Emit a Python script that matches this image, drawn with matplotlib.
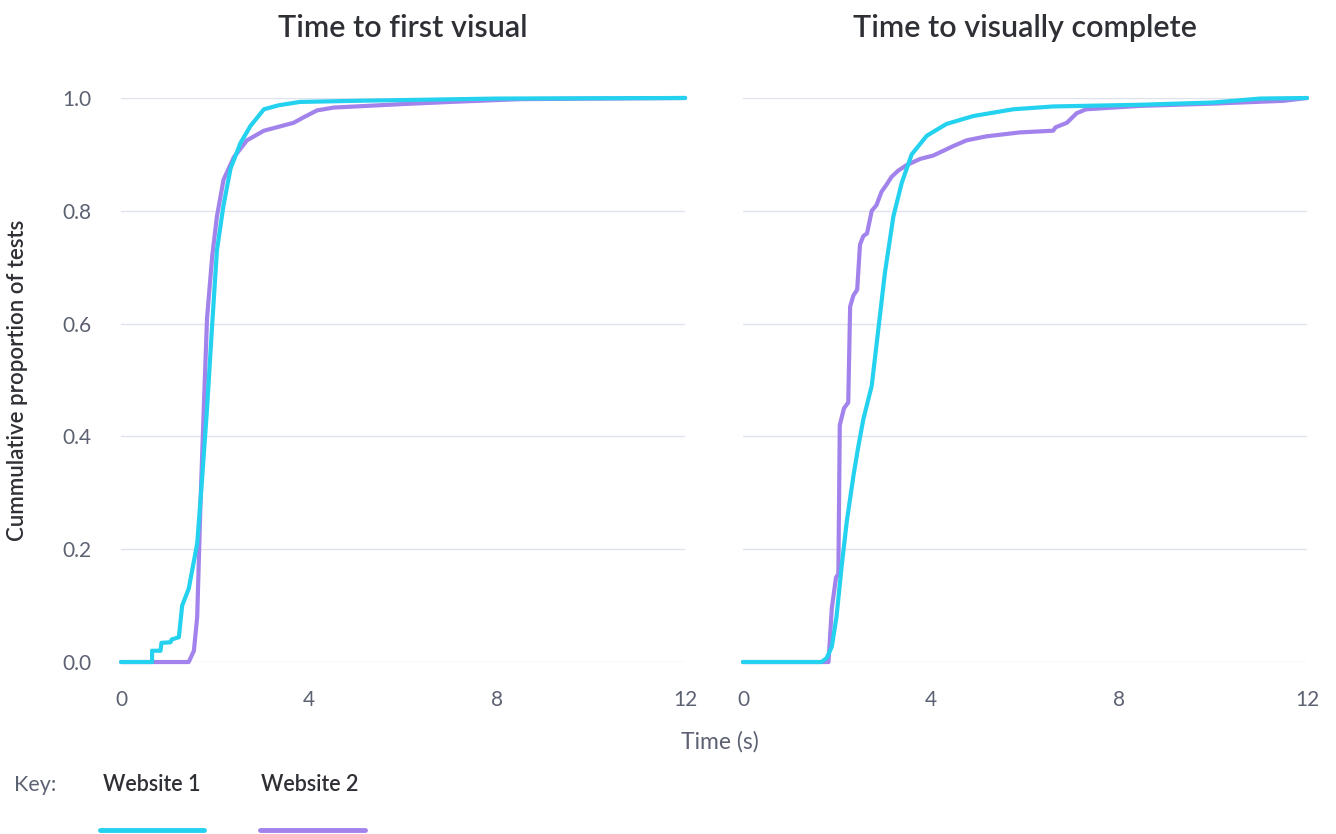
import matplotlib.pyplot as plt
from matplotlib.lines import Line2D

plt.rcParams['font.family'] = ['Lato', 'DejaVu Sans']

CYAN = '#24d1ee'
PURPLE = '#a283ec'
GRID = '#dfe2ec'
TICK = '#5d6273'
DARK = '#2f3036'

# Time to first visual (seconds vs cumulative share)
fv_w1_t = [0, 0.66, 0.66, 0.84, 0.86, 1.05, 1.08, 1.23, 1.30, 1.44, 1.62, 1.72, 1.83, 1.94,
           2.04, 2.18, 2.33, 2.54, 2.75, 3.04, 3.35, 3.8, 5.0, 6.5, 8.0, 12.0]
fv_w1_p = [0, 0, 0.02, 0.02, 0.034, 0.035, 0.04, 0.044, 0.10, 0.13, 0.21, 0.32, 0.45, 0.60,
           0.73, 0.81, 0.875, 0.92, 0.95, 0.98, 0.987, 0.993, 0.995, 0.997, 0.999, 1.0]
fv_w2_t = [0, 1.44, 1.55, 1.62, 1.69, 1.76, 1.83, 1.94, 2.04, 2.18, 2.40, 2.68, 3.04, 3.67,
           3.89, 4.17, 4.52, 5.94, 7.0, 8.5, 12.0]
fv_w2_p = [0, 0, 0.02, 0.08, 0.28, 0.45, 0.61, 0.72, 0.79, 0.855, 0.895, 0.925, 0.942, 0.956,
           0.966, 0.978, 0.983, 0.989, 0.993, 0.998, 1.0]

# Time to visually complete
vc_w1_t = [0, 1.67, 1.78, 1.89, 1.99, 2.10, 2.21, 2.35, 2.45, 2.56, 2.65, 2.74, 2.81, 2.88,
           3.02, 3.20, 3.38, 3.59, 3.91, 4.33, 4.90, 5.75, 6.6, 8.45, 10.0, 11.0, 12.0]
vc_w1_p = [0, 0, 0.007, 0.027, 0.08, 0.17, 0.25, 0.33, 0.38, 0.43, 0.46, 0.49, 0.54, 0.59,
           0.69, 0.79, 0.85, 0.90, 0.933, 0.954, 0.968, 0.980, 0.985, 0.988, 0.992, 0.999, 1.0]
vc_w2_t = [0, 1.82, 1.89, 1.98, 2.03, 2.06, 2.15, 2.24, 2.28, 2.35, 2.43, 2.49, 2.56, 2.64,
           2.74, 2.84, 2.95, 3.06, 3.16, 3.30, 3.48, 3.77, 4.05, 4.48, 4.76, 5.18, 5.89,
           6.6, 6.65, 6.89, 7.1, 7.3, 8.45, 10.0, 11.5, 12.0]
vc_w2_p = [0, 0, 0.095, 0.15, 0.156, 0.42, 0.45, 0.46, 0.63, 0.65, 0.66, 0.74, 0.755, 0.76,
           0.80, 0.81, 0.834, 0.847, 0.86, 0.871, 0.881, 0.892, 0.898, 0.915, 0.925, 0.932,
           0.939, 0.942, 0.948, 0.956, 0.973, 0.98, 0.986, 0.99, 0.995, 1.0]

titles = ['Time to first visual', 'Time to visually complete']
xticks = [0, 4, 8, 12]
yticks = [0.0, 0.2, 0.4, 0.6, 0.8, 1.0]

fig = plt.figure(figsize=(13.36, 8.34), dpi=100)
ax1 = fig.add_axes([0.0906, 0.2062, 0.4222, 0.6763])
ax2 = fig.add_axes([0.5561, 0.2062, 0.4222, 0.6763])

series = [((fv_w1_t, fv_w1_p), (fv_w2_t, fv_w2_p)),
          ((vc_w1_t, vc_w1_p), (vc_w2_t, vc_w2_p))]

for ax, title, (w1, w2) in zip([ax1, ax2], titles, series):
    ax.plot(*w2, color=PURPLE, lw=3, solid_capstyle='round', clip_on=False, zorder=3)
    ax.plot(*w1, color=CYAN, lw=3, solid_capstyle='round', clip_on=False, zorder=4)
    ax.set_xlim(0, 12)
    ax.set_ylim(0, 1.0)
    ax.set_xticks(xticks)
    ax.set_yticks(yticks)
    ax.set_yticklabels([f'{v:.1f}' for v in yticks])
    ax.grid(axis='y', color=GRID, lw=1)
    ax.set_axisbelow(True)
    for s in ax.spines.values():
        s.set_visible(False)
    ax.tick_params(length=0, labelsize=15, labelcolor=TICK)
    ax.tick_params(axis='x', pad=20)
    ax.tick_params(axis='y', pad=21)
    ax.set_title(title, fontsize=22, color=DARK, pad=44, fontweight='semibold')

ax2.tick_params(axis='y', labelleft=False)
ax1.set_ylabel('Cummulative proportion of tests', fontsize=16, color=DARK,
               fontweight='semibold', va='center')
ax1.yaxis.set_label_coords(-0.183, 0.5)

fig.text(0.5385, 0.11, 'Time (s)', ha='center', va='center', fontsize=16.5, color=TICK)

# key
fig.text(0.0105, 0.059, 'Key:', ha='left', va='center', fontsize=15.5, color=TICK)
fig.text(0.1135, 0.059, 'Website 1', ha='center', va='center', fontsize=15.5, color=DARK,
         fontweight='semibold')
fig.text(0.2315, 0.059, 'Website 2', ha='center', va='center', fontsize=15.5, color=DARK,
         fontweight='semibold')
fig.add_artist(Line2D([0.0745, 0.153], [0.005, 0.005], color=CYAN, lw=3.5,
                      solid_capstyle='round'))
fig.add_artist(Line2D([0.1945, 0.273], [0.005, 0.005], color=PURPLE, lw=3.5,
                      solid_capstyle='round'))

fig.savefig('out.png', dpi=100, facecolor='white')
